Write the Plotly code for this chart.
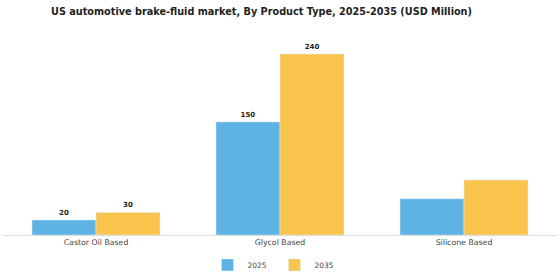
import plotly.graph_objects as go

categories = ["Castor Oil Based", "Glycol Based", "Silicone Based"]
values_2025 = [20, 150, 48]
values_2035 = [30, 240, 73]
labels_2025 = ["20", "150", ""]
labels_2035 = ["30", "240", ""]

fig = go.Figure()
fig.add_trace(go.Bar(name="2025", x=categories, y=values_2025, marker_color="#5DB3E4",
                     text=labels_2025, textposition="outside", cliponaxis=False,
                     textfont=dict(family="DejaVu Sans", size=7, color="#222222", weight="bold")))
fig.add_trace(go.Bar(name="2035", x=categories, y=values_2035, marker_color="#F8C44B",
                     text=labels_2035, textposition="outside", cliponaxis=False,
                     textfont=dict(family="DejaVu Sans", size=7, color="#222222", weight="bold")))

fig.update_layout(
    width=560, height=280,
    margin=dict(l=4, r=4, t=40, b=45, autoexpand=False),
    paper_bgcolor="white", plot_bgcolor="white",
    barmode="group", bargap=0.304, bargroupgap=0,
    title=dict(text="<b>US automotive brake-fluid market, By Product Type, 2025-2035 (USD Million)</b>",
               x=0.467, xanchor="center", y=0.957, yanchor="middle",
               font=dict(family="DejaVu Sans", size=9.7, color="#222222")),
    font=dict(family="DejaVu Sans", size=8, color="#444444"),
    xaxis=dict(showline=True, linecolor="#dddddd", linewidth=1, ticks="", showgrid=False,
               tickfont=dict(size=7.8, color="#444444")),
    yaxis=dict(visible=False, range=[0, 258.6], showgrid=False, zeroline=False),
    legend=dict(orientation="h", x=0.49, xanchor="center", yref="container", y=0.054,
                yanchor="middle", font=dict(size=7.5, color="#444444"),
                itemwidth=30, entrywidth=22),
    showlegend=True,
)

fig.write_html("out.html")
